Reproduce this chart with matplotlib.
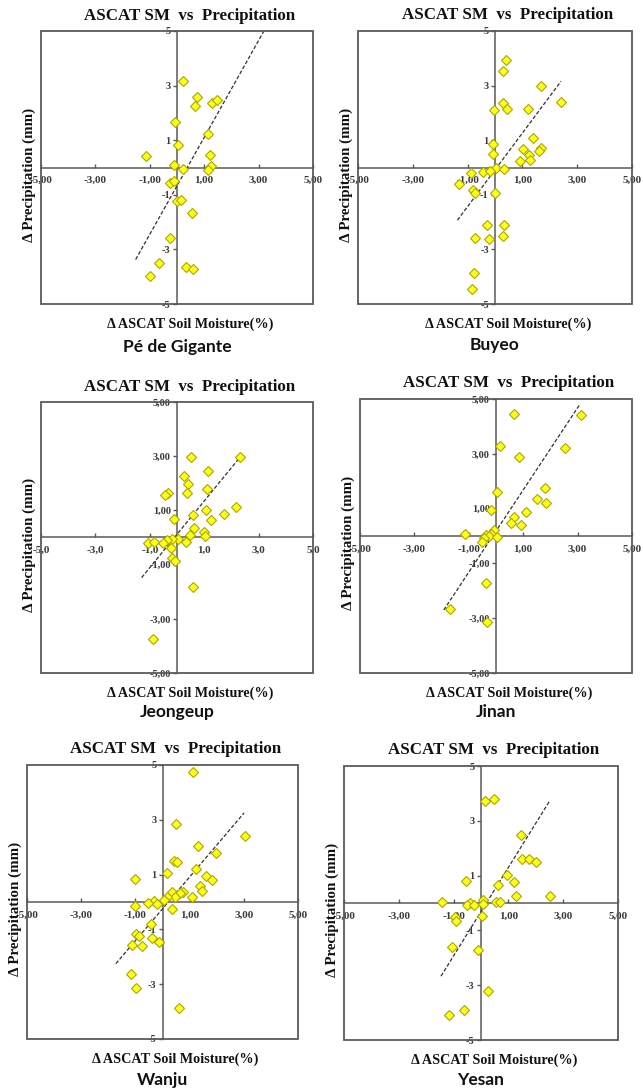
import matplotlib
matplotlib.use("Agg")
import matplotlib.pyplot as plt
from matplotlib.patches import Rectangle

W, H = 641, 1088

# ---------------- data ----------------
site_names = ["Pé de Gigante", "Buyeo", "Jeongeup", "Jinan", "Wanju", "Yesan"]

pdg_x = [0.22, 0.75, 0.65, 1.30, 1.48, -0.06, 1.15, 0.05, -1.15, 1.23, -0.12, 1.25,
         0.22, 1.15, -0.27, -0.12, -0.01, 0.13, 0.56, -0.27, -0.67, 0.32, 0.58, -0.98]
pdg_y = [3.17, 2.59, 2.24, 2.37, 2.49, 1.68, 1.22, 0.83, 0.41, 0.45, 0.09, 0.06,
         -0.06, -0.10, -0.55, -0.50, -1.23, -1.20, -1.68, -2.57, -3.48, -3.63, -3.70, -3.99]
pdg_trend_x = [-1.52, 3.19]
pdg_trend_y = [-3.37, 4.99]

buyeo_x = [0.39, 0.28, 1.68, 2.41, 0.29, 0.43, -0.04, 1.20, 1.37, -0.09, 1.03, 1.68,
           1.59, -0.09, 1.24, 1.26, 0.91, 0.05, 0.34, -0.44, -0.18, -0.89, -1.32, -0.79,
           -0.73, 0.00, -0.28, 0.32, -0.73, -0.21, 0.28, -0.77, -0.85]
buyeo_y = [3.95, 3.54, 2.98, 2.40, 2.37, 2.16, 2.12, 2.13, 1.07, 0.87, 0.66, 0.72,
           0.60, 0.50, 0.44, 0.29, 0.22, 0.00, -0.04, -0.15, -0.12, -0.21, -0.59, -0.82,
           -0.95, -0.93, -2.09, -2.09, -2.60, -2.62, -2.52, -3.87, -4.45]
buyeo_trend_x = [-1.37, 2.41]
buyeo_trend_y = [-1.93, 3.16]

jeongeup_x = [0.52, 2.33, 1.15, 0.25, 0.40, 1.12, 0.36, -0.34, -0.45, 1.07, 2.17, 1.74,
              0.60, -0.10, 1.24, 0.63, 1.00, 1.03, 0.47, 0.04, -0.17, -0.38, 0.34, -0.50,
              -1.08, -0.83, -0.23, -0.18, -0.07, 0.58, -0.90]
jeongeup_y = [2.98, 2.96, 2.47, 2.27, 1.97, 1.80, 1.66, 1.66, 1.55, 1.01, 1.11, 0.85,
              0.83, 0.67, 0.64, 0.35, 0.22, 0.05, 0.10, -0.04, -0.04, -0.10, -0.16, -0.21,
              -0.22, -0.16, -0.39, -0.74, -0.88, -1.81, -3.75]
jeongeup_trend_x = [-1.30, 2.33]
jeongeup_trend_y = [-1.48, 2.98]

jinan_x = [0.65, 3.12, 0.16, 2.52, 0.86, 1.79, 0.05, 1.50, 1.84, -0.20, 1.10, 0.65,
           0.55, 0.92, -0.09, -1.13, -0.17, -0.37, -0.26, 0.02, -0.44, -0.50, -0.37,
           -1.68, -0.33]
jinan_y = [4.45, 4.41, 3.29, 3.20, 2.88, 1.76, 1.61, 1.34, 1.21, 0.94, 0.87, 0.68,
           0.49, 0.39, 0.21, 0.09, 0.09, 0.05, 0.00, -0.05, -0.07, -0.23, -1.71,
           -2.66, -3.15]
jinan_trend_x = [-1.92, 3.08]
jinan_trend_y = [-2.70, 4.80]

wanju_x = [1.12, 0.49, 3.03, 1.30, 1.98, 0.42, 0.53, 1.24, 0.15, 1.60, -1.01, 1.83,
           1.39, 1.46, 0.36, 0.75, 0.63, 0.45, 1.08, 0.16, 0.06, -0.32, -0.52, -0.21,
           -1.02, 0.36, -0.44, -0.99, -0.88, -0.37, -0.12, -1.14, -0.74, -1.18, -0.99, 0.60]
wanju_y = [4.73, 2.85, 2.42, 2.03, 1.79, 1.50, 1.46, 1.22, 1.07, 0.96, 0.85, 0.82,
           0.58, 0.41, 0.36, 0.38, 0.33, 0.18, 0.18, 0.17, 0.09, 0.02, -0.02, -0.07,
           -0.16, -0.24, -0.79, -1.17, -1.23, -1.31, -1.47, -1.57, -1.62, -2.63, -3.15, -3.88]
wanju_trend_x = [-1.72, 3.01]
wanju_trend_y = [-2.25, 3.25]

yesan_x = [0.13, 0.49, 1.45, 1.48, 1.76, 2.00, 0.96, -0.56, 1.21, 0.62, 1.29, 2.52,
           -1.44, 0.06, 0.55, 0.68, -0.39, -0.51, -0.24, 0.06, 0.04, -0.96, -0.91,
           -1.06, -0.12, 0.27, -0.63, -1.18]
yesan_y = [3.71, 3.78, 2.47, 1.61, 1.61, 1.49, 1.02, 0.79, 0.78, 0.67, 0.24, 0.24,
           0.02, 0.11, 0.04, 0.04, 0.00, -0.09, -0.09, -0.05, -0.46, -0.52, -0.67,
           -1.60, -1.73, -3.22, -3.89, -4.08]
yesan_trend_x = [-1.46, 2.52]
yesan_trend_y = [-2.67, 3.75]

tick_vals = [-5, -3, -1, 1, 3, 5]
xlabels_2dec = ["-5,00", "-3,00", "-1,00", "1,00", "3,00", "5,00"]
xlabels_1dec = ["-5,0", "-3,0", "-1,0", "1,0", "3,0", "5,0"]
ylabels_int = ["-5", "-3", "-1", "1", "3", "5"]
ylabels_2dec = ["-5,00", "-3,00", "-1,00", "1,00", "3,00", "5,00"]

title_text = "ASCAT SM  vs  Precipitation"
xlabel_text = "Δ ASCAT Soil Moisture(%)"
ylabel_text = "Δ Precipitation (mm)"

# -------------- layout (pixel boxes: left, top, right, bottom) -------------
panels = [
    dict(x=pdg_x, y=pdg_y, tx=pdg_trend_x, ty=pdg_trend_y, xl=xlabels_2dec, yl=ylabels_int,
         box=(41, 31, 313, 304), title_y=16, name_y=347),
    dict(x=buyeo_x, y=buyeo_y, tx=buyeo_trend_x, ty=buyeo_trend_y, xl=xlabels_2dec, yl=ylabels_int,
         box=(358, 31, 632, 304), title_y=15, name_y=345),
    dict(x=jeongeup_x, y=jeongeup_y, tx=jeongeup_trend_x, ty=jeongeup_trend_y, xl=xlabels_1dec, yl=ylabels_2dec,
         box=(41, 402, 313, 673), title_y=387, name_y=712),
    dict(x=jinan_x, y=jinan_y, tx=jinan_trend_x, ty=jinan_trend_y, xl=xlabels_2dec, yl=ylabels_2dec,
         box=(360, 399, 632, 673), title_y=383, name_y=712),
    dict(x=wanju_x, y=wanju_y, tx=wanju_trend_x, ty=wanju_trend_y, xl=xlabels_2dec, yl=ylabels_int,
         box=(27, 765, 298, 1039), title_y=749, name_y=1080),
    dict(x=yesan_x, y=yesan_y, tx=yesan_trend_x, ty=yesan_trend_y, xl=xlabels_2dec, yl=ylabels_int,
         box=(344, 766, 618, 1040), title_y=750, name_y=1080),
]

serif = ["Liberation Serif", "DejaVu Serif"]
sans = ["Lato", "DejaVu Sans"]
axis_gray = "#5a5a5a"
tick_gray = "#3a3a3a"

fig = plt.figure(figsize=(W / 100, H / 100), dpi=100)
fig.patch.set_facecolor("white")


def fx(px):
    return px / W


def fy(py):
    return 1 - py / H


for p, name in zip(panels, site_names):
    l, t, r, b = p["box"]
    ax = fig.add_axes([fx(l), fy(b), (r - l) / W, (b - t) / H])
    ax.set_xlim(-5, 5)
    ax.set_ylim(-5, 5)
    ax.set_facecolor("white")

    for s in ["top", "right"]:
        ax.spines[s].set_visible(False)
    ax.spines["left"].set_position(("data", 0))
    ax.spines["bottom"].set_position(("data", 0))
    for s in ["left", "bottom"]:
        ax.spines[s].set_color(axis_gray)
        ax.spines[s].set_linewidth(1.1)
    ax.add_patch(Rectangle((0, 0), 1, 1, transform=ax.transAxes, fill=False,
                           edgecolor=axis_gray, linewidth=1.3, zorder=5, clip_on=False))

    ax.set_xticks(tick_vals)
    ax.set_xticklabels(p["xl"])
    ax.set_yticks(tick_vals)
    ax.set_yticklabels(p["yl"])
    ax.tick_params(axis="x", direction="in", length=3, width=1, color=axis_gray,
                   pad=6, labelsize=8, labelcolor=tick_gray)
    ax.tick_params(axis="y", direction="out", length=3, width=1, color=axis_gray,
                   pad=1.5, labelsize=7.5, labelcolor=tick_gray)
    for lab in ax.get_xticklabels() + ax.get_yticklabels():
        lab.set_family(serif)
        lab.set_fontweight("bold")

    ax.plot(p["tx"], p["ty"], color="#303030", linestyle=(0, (3, 1.6)), linewidth=0.9, zorder=3)
    ax.plot(p["x"], p["y"], linestyle="none", marker="D", markersize=5.4,
            markerfacecolor="#ffff1a", markeredgecolor="#a8a800", markeredgewidth=0.8, zorder=4,
            clip_on=False)

    cx = (l + r) / 2
    cy = (t + b) / 2
    fig.text(fx(cx + 13), fy(p["title_y"]), title_text, family=serif, fontweight="bold",
             fontsize=12.2, ha="center", va="center", color="#111111")
    fig.text(fx(cx + 13), fy(b + 20), xlabel_text, family=serif, fontweight="bold",
             fontsize=10.2, ha="center", va="center", color="#111111")
    fig.text(fx(l - 12), fy(cy + 7), ylabel_text, family=serif, fontweight="bold",
             fontsize=10.8, ha="center", va="center", rotation=90, color="#111111")
    fig.text(fx(cx), fy(p["name_y"]), name, family=sans, fontweight="bold",
             fontsize=12.5, ha="center", va="center", color="#111111")

fig.savefig("out.png", dpi=100, facecolor="white")
